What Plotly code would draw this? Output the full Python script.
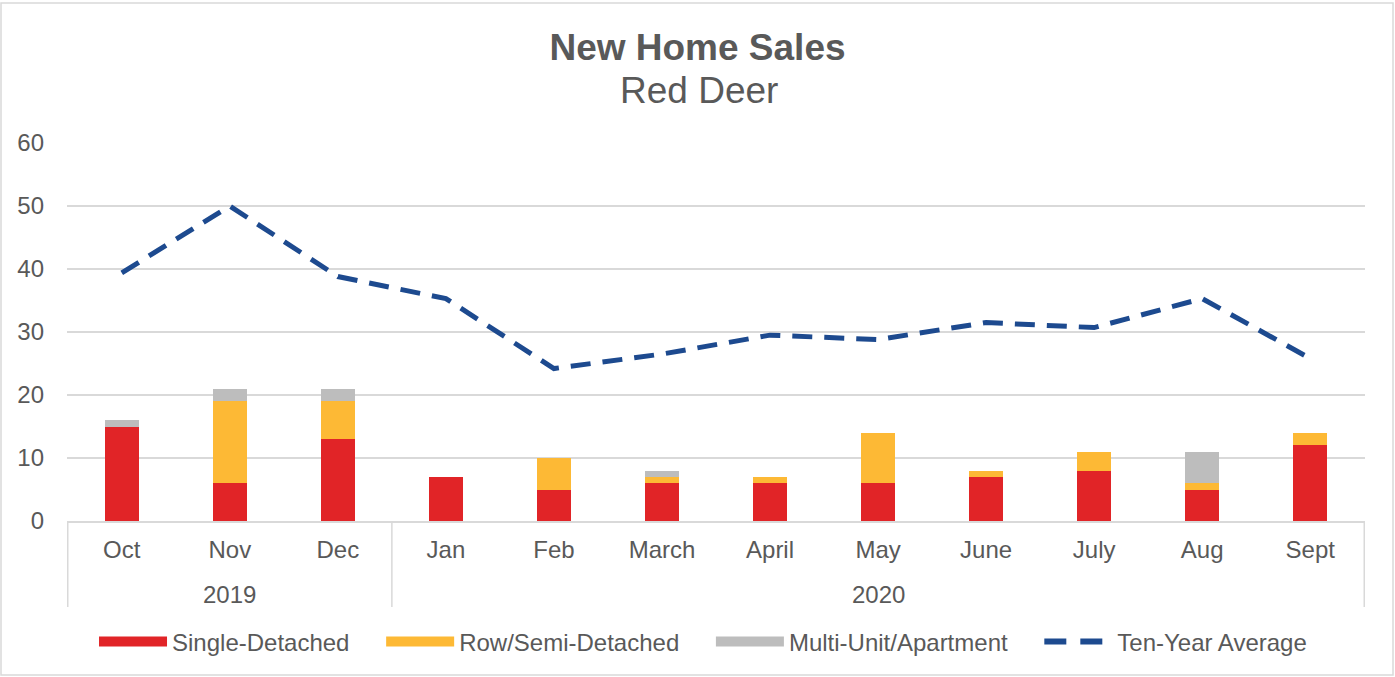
import plotly.graph_objects as go

months = ["Oct", "Nov", "Dec", "Jan", "Feb", "March", "April", "May", "June", "July", "Aug", "Sept"]
year_labels = ["2019", "2020"]
year_centers = [1, 7]          # category index at the centre of each year group
year_bounds = [-0.5, 2.5, 11.5]  # category boundaries of the year groups
single_detached = [15, 6, 13, 7, 5, 6, 6, 6, 7, 8, 5, 12]
row_semi = [0, 13, 6, 0, 5, 1, 1, 8, 1, 3, 1, 2]
multi_unit = [1, 2, 2, 0, 0, 1, 0, 0, 0, 0, 5, 0]
ten_year_avg = [39.4, 50.0, 38.8, 35.3, 24.2, 26.5, 29.5, 28.8, 31.5, 30.7, 35.3, 25.8]

C_RED = "#E12427"
C_YEL = "#FDB935"
C_GRY = "#BDBDBD"
C_NAV = "#1D4A8F"
TXT = "#595959"
GRID = "#D9D9D9"
FONT = "Liberation Sans, Arial, sans-serif"
NB = "\u00a0"

fig = go.Figure()
for name, vals, col in [("Single-Detached", single_detached, C_RED),
                        ("Row/Semi-Detached", row_semi, C_YEL),
                        ("Multi-Unit/Apartment", multi_unit, C_GRY)]:
    fig.add_trace(go.Bar(x=months, y=vals, name=name, marker=dict(color=col, line=dict(width=0)),
                         showlegend=False, hoverinfo="y+name"))

fig.add_trace(go.Scatter(x=months, y=ten_year_avg, mode="lines", name="Ten-Year Average",
                         line=dict(color=C_NAV, width=5, dash="20px,12px"), showlegend=False))

# legend entries
for name, col in [("Single-Detached", C_RED), ("Row/Semi-Detached", C_YEL),
                  ("Multi-Unit/Apartment", C_GRY)]:
    fig.add_trace(go.Scatter(x=[months[0]], y=[None], mode="lines", name=name + NB * 4,
                             line=dict(color=col, width=14), showlegend=True))
fig.add_trace(go.Scatter(x=[months[0]], y=[None], mode="lines", name="Ten-Year Average",
                         line=dict(color=C_NAV, width=6, dash="22px,14px"), showlegend=True))

W, H = 1395, 677
L, R, T, B = 67, 30, 143, 156
pw, ph = W - L - R, H - T - B

annotations = [dict(text=t, x=c, xref="x", y=(521 - 594) / ph, yref="paper",
                    showarrow=False, xanchor="center", yanchor="middle",
                    font=dict(family=FONT, size=24, color=TXT))
               for t, c in zip(year_labels, year_centers)]
annotations.append(dict(text="Red Deer", x=(699 - L) / pw, xref="paper", xanchor="center",
                        y=(521 - 90) / ph, yref="paper", yanchor="middle", showarrow=False,
                        font=dict(family=FONT, size=37, color=TXT)))
shapes = [dict(type="line", xref="x", yref="paper", x0=b, x1=b, y0=0, y1=(521 - 607) / ph,
               line=dict(color=GRID, width=1.5)) for b in year_bounds]
shapes.append(dict(type="rect", xref="paper", yref="paper",
                   x0=(1 - L) / pw, x1=(1393 - L) / pw, y0=(521 - 675) / ph, y1=(521 - 3) / ph,
                   line=dict(color=GRID, width=1.5), fillcolor="rgba(0,0,0,0)", layer="below"))

fig.update_layout(
    width=W, height=H,
    margin=dict(l=L, r=R, t=T, b=B),
    paper_bgcolor="white", plot_bgcolor="white",
    barmode="stack", bargap=0.69,
    font=dict(family=FONT, size=24, color=TXT),
    title=dict(text="<b>New Home Sales</b>", x=0.5, xanchor="center",
               y=1 - 47 / H, yanchor="middle", font=dict(family=FONT, size=37, color=TXT)),
    legend=dict(orientation="h", x=0.49, xanchor="center", y=(521 - 642) / ph, yanchor="middle",
                font=dict(size=24, color=TXT), itemwidth=68, traceorder="normal"),
    xaxis=dict(type="category", showline=True, linecolor=GRID, linewidth=1.5,
               tickfont=dict(size=24, color=TXT), showgrid=False, ticklabelstandoff=6),
    yaxis=dict(range=[0, 60], dtick=10, showgrid=True, gridcolor=GRID, gridwidth=1.5,
               zeroline=False, showline=False, tickfont=dict(size=24, color=TXT),
               ticklabelstandoff=22),
    annotations=annotations,
    shapes=shapes,
)

fig.write_html("out.html", config={"displayModeBar": False},
               post_script="document.body.style.margin='0';")
